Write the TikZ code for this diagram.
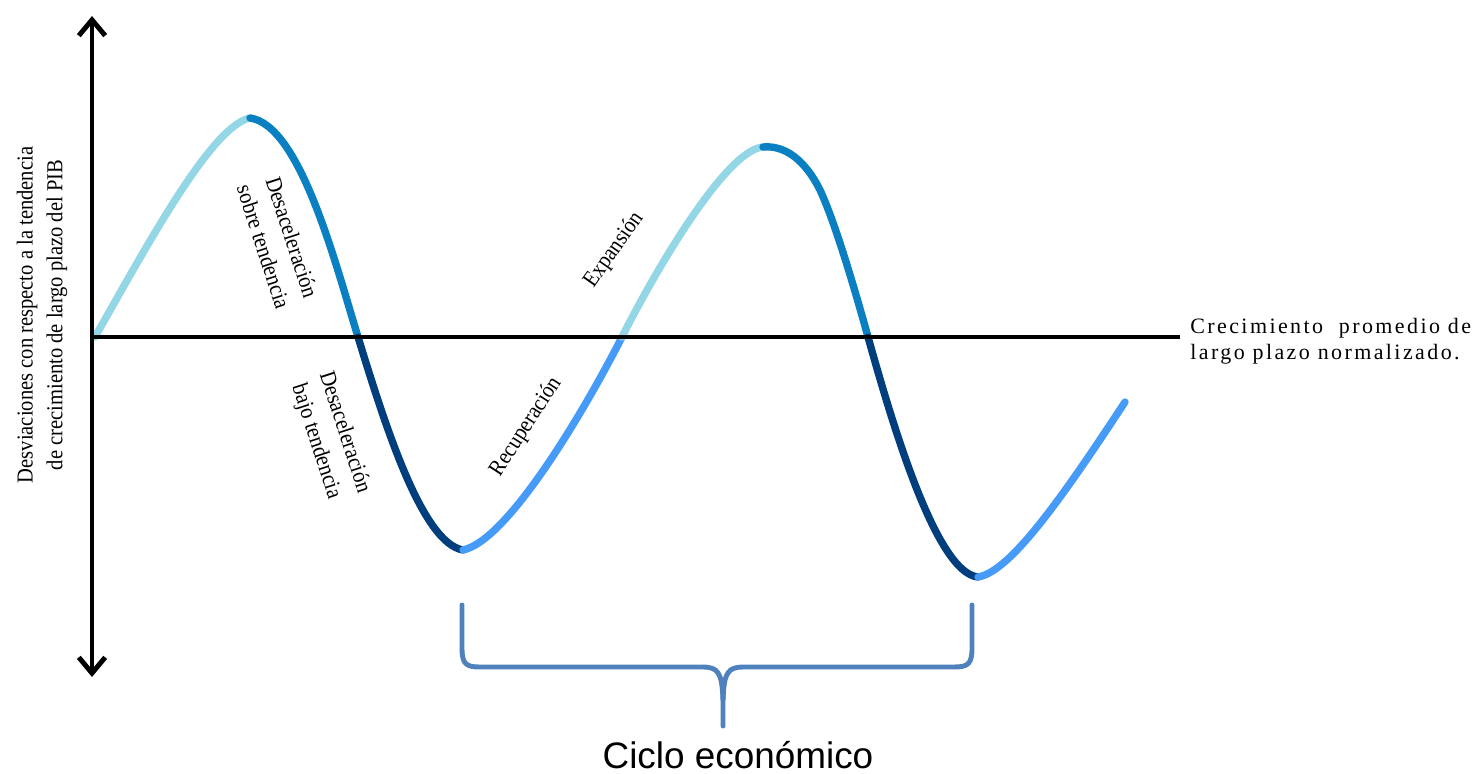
\documentclass[tikz,border=0pt]{standalone}
\usepackage{fontspec}
\setmainfont{Liberation Serif}
\newfontfamily\bracefont{Liberation Sans}
\usetikzlibrary{arrows.meta}
\definecolor{cvlight}{HTML}{93D6E6}
\definecolor{cvmid}{HTML}{0A80C2}
\definecolor{cvnavy}{HTML}{003E7E}
\definecolor{cvbright}{HTML}{459BF7}
\definecolor{bracecol}{HTML}{4F81BD}
\newcommand\cnd[1]{\scalebox{0.9}[1]{#1}}
\tikzset{
  curveseg/.style={line width=4.2pt, line cap=round, line join=round},
  axisline/.style={line width=2.8pt, black},
  lbl/.style={font=\fontsize{13}{17}\selectfont, align=center, inner sep=0pt},
  bracepath/.style={line width=2.8pt, bracecol, line cap=round, line join=round}
}
\begin{document}
\begin{tikzpicture}[x=0.02cm,y=-0.02cm]
\useasboundingbox (0,0) rectangle (1478,774);
% curve junctions
\coordinate (c0) at (95,337);
\coordinate (p1) at (250,118);
\coordinate (z1) at (358,337);
\coordinate (t1) at (463,550);
\coordinate (z2) at (622,337);
\coordinate (p2) at (763,147);
\coordinate (z3) at (868,337);
\coordinate (t2) at (978,577);
\coordinate (cend) at (1125,402);
% curve segments
\draw[curveseg, cvlight] (c0) .. controls (150,240) and (212,126) .. (p1);
\draw[curveseg, cvmid] (p1) .. controls (300,125) and (335,262) .. (z1);
\draw[curveseg, cvnavy] (z1) .. controls (385,425) and (422,543) .. (t1);
\draw[curveseg, cvbright] (t1) .. controls (510,540) and (590,400) .. (z2);
\draw[curveseg, cvlight] (z2) .. controls (652,277) and (725,150) .. (p2);
\draw[curveseg, cvmid] (p2) .. controls (785,145) and (805,160) .. (820,190) .. controls (835,222) and (855,290) .. (z3);
\draw[curveseg, cvnavy] (z3) .. controls (890,415) and (935,573) .. (t2);
\draw[curveseg, cvbright] (t2) .. controls (1010,572) and (1062,498) .. (cend);
% axes
\coordinate (ytop) at (92,16);
\coordinate (ybot) at (92,677);
\coordinate (xorig) at (90,337);
\coordinate (xend) at (1180,337);
\draw[axisline, {Straight Barb[length=9pt,width=15pt]}-{Straight Barb[length=9pt,width=15pt]}] (ybot) -- (ytop);
\draw[axisline] (xorig) -- (xend);
% labels
\node[lbl, rotate=90] (ylab) at (42,315) {\cnd{Desviaciones con respecto a la tendencia}\\\cnd{de crecimiento de largo plazo del PIB}};
\node[lbl, rotate=-72] (dsobre) at (278,242) {\cnd{Desaceleración}\\\cnd{sobre tendencia}};
\node[lbl, rotate=-72] (dbajo) at (330,437) {\cnd{Desaceleración}\\\cnd{bajo tendencia}};
\node[lbl, rotate=57] (recup) at (526,427) {\cnd{Recuperación}};
\node[lbl, rotate=55] (expan) at (614,250) {\cnd{Expansión}};
\node[anchor=west, align=left, inner sep=0pt, font=\fontsize{12.5}{14.7}\selectfont\addfontfeatures{LetterSpace=11}] (xlab) at (1190,341) {Crecimiento\ \ promedio de\\largo plazo normalizado.};
% brace
\coordinate (bl) at (462,605);
\coordinate (br) at (972,605);
\coordinate (btip) at (723,726);
\draw[bracepath] (bl) -- (462,648) .. controls (462,664) and (466,667) .. (480,667) -- (702,667) .. controls (718,667) and (722,672) .. (723,700) -- (btip);
\draw[bracepath] (br) -- (972,648) .. controls (972,664) and (968,667) .. (954,667) -- (744,667) .. controls (728,667) and (724,672) .. (723,700);
\node[inner sep=0pt, font=\bracefont\fontsize{21}{25}\selectfont] (ciclo) at (738,755) {Ciclo económico};
\end{tikzpicture}
\end{document}
